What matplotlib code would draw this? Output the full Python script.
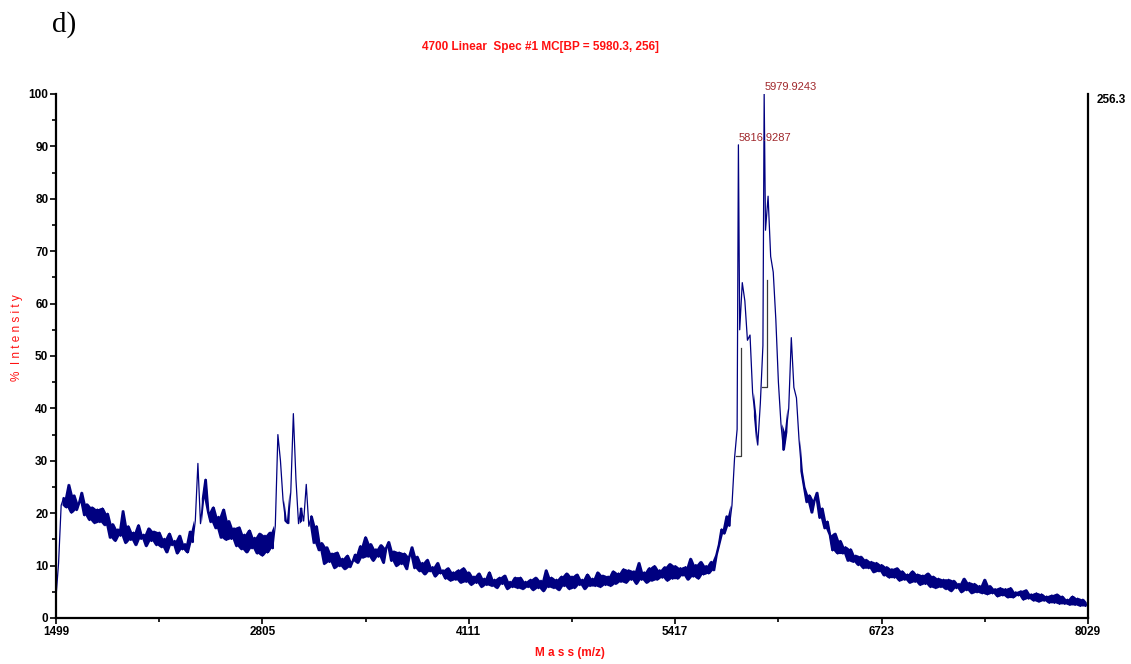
import numpy as np
import matplotlib
matplotlib.use('Agg')
from matplotlib import pyplot as plt

plt.rcParams['font.family'] = ['Liberation Sans', 'DejaVu Sans']

# spectrum, % intensity sampled every 16.325 Da from 1499 to 8029 (20 points per row)
intensity = [
    4.0, 10.5, 21.5, 23.0, 21.0, 25.5, 20.0, 23.5, 20.5, 22.0, 24.0, 19.5, 21.8, 18.6, 21.2, 18.0, 20.8, 18.2, 21.0, 17.6,
    20.0, 15.2, 18.0, 14.6, 17.0, 15.6, 20.5, 14.2, 17.6, 14.8, 16.4, 13.8, 17.8, 15.0, 16.0, 13.6, 17.2, 14.6, 16.6, 13.8,
    16.4, 13.4, 15.2, 12.4, 16.2, 13.8, 14.8, 12.2, 15.8, 13.0, 14.2, 12.4, 16.6, 14.4, 18.6, 29.5, 18.0, 22.8, 26.5, 20.2,
    18.2, 21.2, 17.0, 19.4, 15.2, 20.8, 14.8, 18.6, 15.0, 17.2, 13.6, 17.4, 13.0, 16.0, 12.4, 16.8, 13.2, 15.4, 12.2, 16.2,
    11.8, 15.8, 12.4, 16.4, 13.2, 17.6, 35.0, 30.0, 22.5, 18.5, 18.0, 24.0, 39.0, 26.5, 18.0, 21.0, 18.5, 25.5, 17.5, 19.5,
    14.2, 17.6, 12.8, 14.4, 10.2, 13.6, 10.6, 12.4, 9.4, 12.6, 9.8, 11.4, 9.2, 12.0, 9.6, 10.8, 12.2, 10.4, 13.8, 11.4,
    15.5, 11.6, 14.2, 10.8, 13.2, 11.6, 14.0, 10.4, 13.4, 14.6, 10.8, 12.8, 9.8, 12.6, 10.2, 12.4, 9.2, 11.8, 13.6, 9.4,
    11.8, 8.8, 10.6, 8.2, 11.2, 8.8, 9.8, 7.8, 10.6, 8.4, 9.2, 7.4, 9.6, 7.0, 8.8, 7.2, 9.2, 6.6, 9.6, 6.8,
    8.8, 6.2, 8.0, 6.6, 8.6, 5.8, 7.6, 6.2, 8.8, 6.0, 7.4, 5.6, 7.8, 6.4, 8.2, 5.4, 7.0, 5.8, 7.8, 5.6,
    7.8, 5.4, 7.0, 5.8, 7.4, 5.2, 7.8, 5.6, 7.2, 5.0, 9.2, 5.8, 7.8, 5.6, 7.4, 5.2, 8.0, 6.0, 8.6, 5.4,
    8.0, 5.6, 8.4, 6.2, 7.4, 5.4, 8.4, 6.0, 7.6, 6.0, 8.8, 5.8, 8.2, 6.2, 8.0, 6.0, 9.0, 6.4, 8.6, 6.8,
    9.4, 6.6, 9.2, 7.2, 9.0, 6.4, 10.6, 7.2, 8.8, 6.6, 9.6, 7.0, 10.0, 7.2, 9.2, 7.6, 9.8, 7.0, 10.4, 7.4,
    10.0, 7.4, 9.6, 8.0, 9.8, 7.2, 11.4, 7.8, 10.2, 7.4, 10.8, 8.2, 10.0, 8.4, 10.8, 9.0, 12.0, 14.0, 17.0, 16.0,
    19.5, 17.5, 21.5, 30.5, 36.0, 55.0, 64.0, 60.5, 53.0, 54.0, 43.0, 38.5, 33.0, 41.0, 52.0, 74.0, 80.5, 69.0, 66.0, 57.0,
    45.0, 37.0, 32.0, 35.5, 40.0, 53.5, 44.0, 42.0, 34.0, 28.0, 25.0, 22.0, 23.5, 20.0, 22.5, 24.0, 19.0, 21.0, 17.0, 18.5,
    15.8, 12.8, 16.2, 12.2, 14.8, 12.2, 13.6, 10.8, 13.2, 10.6, 12.0, 10.0, 11.8, 9.4, 11.2, 9.4, 10.8, 8.6, 10.6, 8.8,
    10.2, 8.0, 9.8, 7.6, 9.4, 7.6, 9.6, 7.0, 9.0, 7.2, 8.4, 6.6, 9.0, 6.8, 8.4, 6.2, 8.2, 6.4, 8.6, 5.8,
    8.0, 5.6, 7.6, 5.8, 7.4, 5.4, 7.4, 5.0, 7.2, 5.6, 6.6, 4.8, 7.6, 5.2, 6.8, 4.6, 6.6, 4.8, 6.2, 4.6,
    7.4, 4.4, 6.2, 4.6, 5.6, 4.0, 5.8, 4.2, 5.6, 3.8, 5.8, 3.8, 5.0, 4.2, 5.2, 3.4, 5.4, 3.6, 4.6, 3.2,
    4.8, 3.0, 4.6, 3.2, 4.2, 2.8, 4.4, 2.8, 4.6, 2.6, 4.2, 2.6, 3.6, 2.4, 4.2, 2.4, 3.8, 2.2, 3.6, 2.2,
    3.0,
]
assert len(intensity) == 401
mass = np.linspace(1499, 8029, len(intensity))

# labelled peaks
peak_mass = [5816.9287, 5979.9243]
peak_pct = [90.3, 100.0]

# peak integration brackets: (left, right) mass, bottom and top %
bracket_mass = [(5802, 5834), (5966, 5998)]
bracket_lo = [31.0, 44.0]
bracket_hi = [51.5, 64.5]

xticks = [1499, 2805, 4111, 5417, 6723, 8029]
base_peak = '256.3'

# merge the labelled peaks into the sampled trace
all_mass = np.concatenate([mass, peak_mass])
all_pct = np.concatenate([intensity, peak_pct])
order = np.argsort(all_mass)
all_mass, all_pct = all_mass[order], all_pct[order]

# noise band: min/max of neighbouring samples, skipped across real peaks
mid_mass = (all_mass[:-1] + all_mass[1:]) / 2
pair_lo = np.minimum(all_pct[:-1], all_pct[1:])
pair_hi = np.maximum(all_pct[:-1], all_pct[1:])
noisy = (pair_hi - pair_lo) < 6.5

fig = plt.figure(figsize=(11.31, 6.64), dpi=100)
ax = fig.add_axes([56 / 1131, 1 - 618 / 664, (1088 - 56) / 1131, (618 - 94) / 664])

ax.fill_between(mid_mass, pair_lo, pair_hi, where=noisy, color='#000080', lw=0)
ax.plot(all_mass, all_pct, color='#000080', lw=0.9)
for (m0, m1), lo, hi in zip(bracket_mass, bracket_lo, bracket_hi):
    ax.plot([m0, m1, m1], [lo, lo, hi], color='#3a3a3a', lw=0.9)

for m, p in zip(peak_mass, peak_pct):
    ax.annotate('%.4f' % m, xy=(m, p), xytext=(0, 1.5), textcoords='offset points',
                ha='left', va='bottom', fontsize=8, color='#a0282c', annotation_clip=False)

ax.set_xlim(1499, 8029)
ax.set_ylim(0, 100)
ax.set_xticks(xticks)
ax.set_xticks([(a + b) / 2 for a, b in zip(xticks[:-1], xticks[1:])], minor=True)
ax.set_yticks(range(0, 101, 10))
ax.set_yticks(range(5, 100, 10), minor=True)
ax.tick_params(which='both', direction='out', width=1.2, labelsize=8.5, pad=1.5)
ax.tick_params(which='major', length=4)
ax.tick_params(which='minor', length=3)
for lab in ax.get_xticklabels() + ax.get_yticklabels():
    lab.set_fontweight('bold')

ax.spines['top'].set_visible(False)
for s in ['left', 'bottom', 'right']:
    ax.spines[s].set_linewidth(1.6)

fig.text(1097 / 1131, 1 - 100 / 664, base_peak, ha='left', va='center', fontsize=8.5, fontweight='bold')
fig.text(52 / 1131, 1 - 32 / 664, 'd)', ha='left', va='baseline', fontsize=21, family='Liberation Serif')
fig.text(540 / 1131, 1 - 47 / 664, '4700 Linear  Spec #1 MC[BP = 5980.3, 256]', ha='center', va='center',
         fontsize=8.5, fontweight='bold', color='#ff1010')
fig.text(570 / 1131, 1 - 653 / 664, 'M a s s (m/z)', ha='center', va='center', fontsize=8.5,
         fontweight='bold', color='#ff1010')
fig.text(17 / 1131, 1 - 338 / 664, '%  I n t e n s i t y', ha='center', va='center', rotation=90,
         fontsize=8.5, color='#ff1010')

plt.savefig('out.png', dpi=100)
plt.close()
